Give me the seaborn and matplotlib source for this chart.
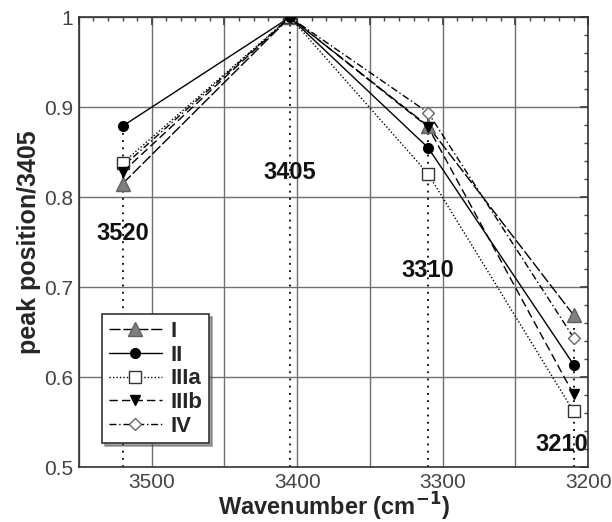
import matplotlib
matplotlib.use("Agg")
import matplotlib.pyplot as plt
import pandas as pd
import seaborn as sns
from matplotlib.ticker import MultipleLocator, FuncFormatter

wavenumbers = [3520, 3405, 3310, 3210]
series_names = ["I", "II", "IIIa", "IIIb", "IV"]
vals_I = [0.815, 1.0, 0.879, 0.669]
vals_II = [0.879, 1.0, 0.855, 0.614]
vals_IIIa = [0.838, 1.0, 0.826, 0.562]
vals_IIIb = [0.828, 1.0, 0.878, 0.581]
vals_IV = [0.834, 1.0, 0.894, 0.644]
peak_labels = ["3520", "3405", "3310", "3210"]

sns.set_theme(style="white")
plt.rcParams["font.family"] = ["Liberation Sans", "DejaVu Sans"]

df = pd.DataFrame({
    "wavenumber": wavenumbers * 5,
    "value": vals_I + vals_II + vals_IIIa + vals_IIIb + vals_IV,
    "sample": [s for s in series_names for _ in wavenumbers],
})

styles = {
    "I": dict(ls=(0, (8, 2)), marker="^", mfc="#808080", mec="#606060", ms=10, z=3),
    "II": dict(ls="-", marker="o", mfc="black", mec="black", ms=7, z=6),
    "IIIa": dict(ls=(0, (1, 1.5)), marker="s", mfc="white", mec="#333333", ms=8, z=4),
    "IIIb": dict(ls=(0, (6, 3)), marker="v", mfc="black", mec="black", ms=7, z=5),
    "IV": dict(ls=(0, (5, 2, 1, 2)), marker="D", mfc="white", mec="#666666", ms=6, z=3),
}

fig = plt.figure(figsize=(6.12, 5.22), dpi=100)
ax = fig.add_axes([0.129, 0.105, 0.832, 0.862])

# dotted drop lines from the highest point of each peak down to the axis
top_vals = df.groupby("wavenumber")["value"].max()
for w in wavenumbers:
    ax.vlines(w, 0.5, top_vals[w], color="black", ls=(0, (1, 3)), lw=1.3, zorder=2)

for name in series_names:
    st = styles[name]
    sub = df[df["sample"] == name]
    sns.lineplot(data=sub, x="wavenumber", y="value", ax=ax, color="black", lw=1,
                 linestyle=st["ls"], marker=st["marker"], markersize=st["ms"],
                 markerfacecolor=st["mfc"], markeredgecolor=st["mec"],
                 markeredgewidth=1, label=name, zorder=st["z"])

label_y = [0.76, 0.827, 0.719, 0.525]
label_dx = [0, 0, 0, 8]
for w, lab, y, dx in zip(wavenumbers, peak_labels, label_y, label_dx):
    ax.text(w + dx, y, lab, ha="center", va="center", fontsize=17, fontweight="bold",
            color="#111111", zorder=7)

ax.set_xlim(3550, 3200)
ax.set_ylim(0.5, 1.0)
ax.xaxis.set_major_locator(MultipleLocator(50))
ax.xaxis.set_minor_locator(MultipleLocator(10))
ax.xaxis.set_major_formatter(FuncFormatter(lambda v, p: f"{v:.0f}" if round(v) % 100 == 0 else ""))
ax.yaxis.set_major_locator(MultipleLocator(0.1))
ax.yaxis.set_minor_locator(MultipleLocator(0.02))
ax.yaxis.set_major_formatter(FuncFormatter(lambda v, p: "1" if abs(v - 1) < 1e-6 else f"{v:.1f}"))
ax.grid(True, which="major", color="#707070", lw=1.0)
ax.tick_params(which="both", direction="in", top=True, right=True, labelsize=15,
               colors="#444444", pad=4)
ax.tick_params(which="major", length=6)
ax.tick_params(which="minor", length=3)
for sp in ax.spines.values():
    sp.set_color("#333333")
    sp.set_linewidth(1.2)

ax.set_xlabel("Wavenumber (cm$^{\\mathbf{-1}}$)", fontsize=17, fontweight="bold", labelpad=-1)
ax.set_ylabel("peak position/3405", fontsize=18, fontweight="bold", labelpad=2)

leg = ax.legend(loc="lower left", bbox_to_anchor=(0.045, 0.053),
                prop={"weight": "bold", "size": 16}, frameon=True, fancybox=False,
                shadow=True, handlelength=2.4, borderpad=0.3, labelspacing=0.12,
                handletextpad=0.4, borderaxespad=0)
leg.get_frame().set_edgecolor("#333333")
leg.get_frame().set_linewidth(1.2)

fig.savefig("out.png", dpi=100)
